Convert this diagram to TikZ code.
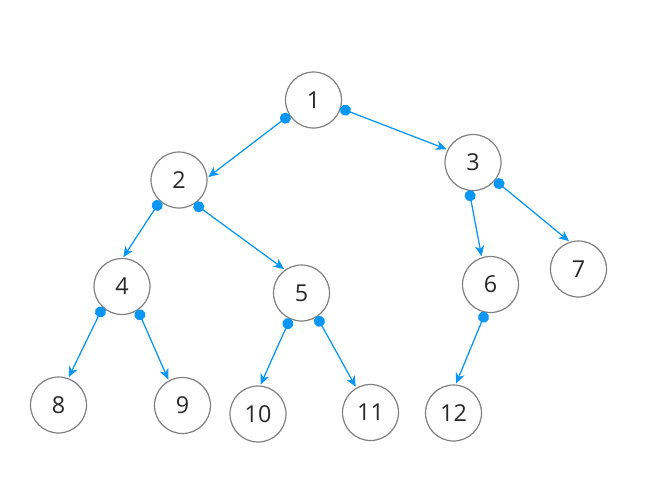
\documentclass[tikz,border=0pt]{standalone}
\usepackage{fontspec}
\setmainfont{Open Sans}
\usetikzlibrary{arrows.meta}
\definecolor{linkblue}{RGB}{10,150,245}
\definecolor{ringgray}{RGB}{128,128,128}
\definecolor{digitgray}{RGB}{40,40,40}

\begin{document}
\begin{tikzpicture}[x=0.75pt,y=-0.75pt,
  font=\fontsize{17.5}{20}\selectfont,
  vertex/.style={circle,draw=ringgray,line width=0.9pt,fill=white,
    minimum size=42pt,inner sep=0pt,outer sep=0pt,text=digitgray},
  link/.style={draw=linkblue,line width=0.95pt,
    {Circle[length=8.3pt,width=8.3pt]}-{Stealth[length=8pt,width=7pt,inset=2.4pt]},
    shorten >=1.2pt}]
\useasboundingbox (0,0) rectangle (662,486);
\node[vertex] (n1) at (313.5,100) {1};
\node[vertex] (n2) at (179,180) {2};
\node[vertex] (n3) at (473,162.5) {3};
\node[vertex] (n4) at (122,286.5) {4};
\node[vertex] (n5) at (301.5,293) {5};
\node[vertex] (n6) at (490.5,284.5) {6};
\node[vertex] (n7) at (578.5,269) {7};
\node[vertex] (n8) at (58.5,405) {8};
\node[vertex] (n9) at (182.5,405.5) {9};
\node[vertex] (n10) at (258,414) {10};
\node[vertex] (n11) at (370.5,412.5) {11};
\node[vertex] (n12) at (453.5,413) {12};

\draw[link] (n1.212)--(n2.4);
\draw[link] (n1.343)--(n3.153);
\draw[link] (n2.228)--(n4.89);
\draw[link] (n2.303)--(n5.125);
\draw[link] (n3.262)--(n6.108);
\draw[link] (n3.321)--(n7.107);
\draw[link] (n4.227)--(n8.70);
\draw[link] (n4.304)--(n9.119);
\draw[link] (n5.246)--(n10.86);
\draw[link] (n5.303)--(n11.120);
\draw[link] (n6.260)--(n12.86);
\end{tikzpicture}
\end{document}
